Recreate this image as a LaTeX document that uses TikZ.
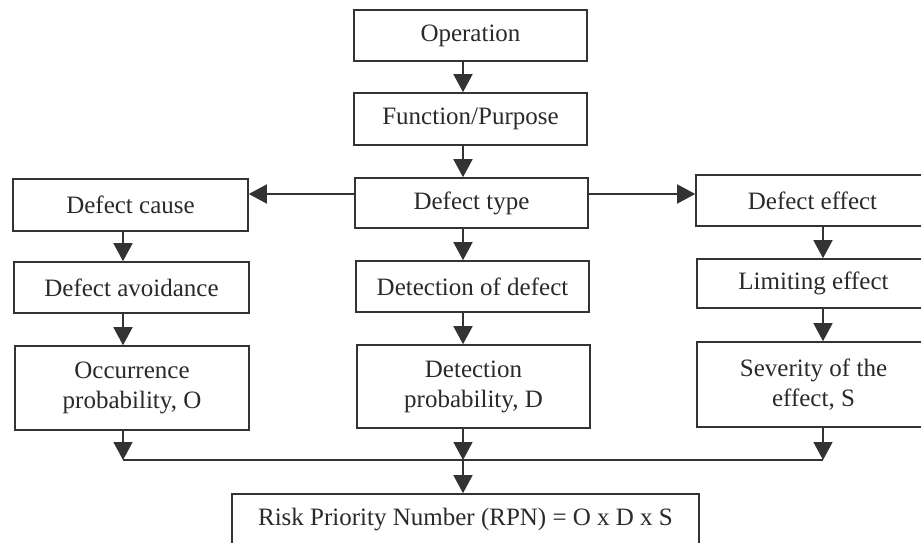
\documentclass[tikz,border=0pt]{standalone}
\usepackage{fontspec}
\setmainfont{Liberation Serif}
\usetikzlibrary{arrows.meta}
\definecolor{ink}{HTML}{333333}
\definecolor{txt}{HTML}{2A2A2A}
\begin{document}
\begin{tikzpicture}[x=1pt,y=-1pt,
  box/.style={draw=ink, line width=1.6pt, rectangle, inner sep=0pt,
    align=center, text=txt, font=\fontsize{25}{30}\selectfont},
  arr/.style={draw=ink, line width=1.6pt, -{Triangle[width=19pt,length=18pt]}},
  link/.style={draw=ink, line width=1.6pt}]
\useasboundingbox (0,0) rectangle (921,542);
\clip (0,0) rectangle (921,542);
\fill[white] (0,0) rectangle (921,542);

% column axes for the connectors
\coordinate (cl) at (123,0);
\coordinate (cx) at (463,0);
\coordinate (cr) at (823,0);
\coordinate (hy) at (0,194);
\coordinate (by) at (0,460);

% centre column
\node[box, minimum width=233pt, minimum height=51pt] (op) at (470.5,35.5) {Operation};
\node[box, minimum width=233pt, minimum height=52pt] (fp) at (470.5,119) {Function/Purpose};
\node[box, minimum width=233pt, minimum height=50pt] (dt) at (471.5,203) {Defect type};
\node[box, minimum width=233pt, minimum height=51pt] (dd) at (472.5,286.5) {Detection of defect};
\node[box, minimum width=233pt, minimum height=83pt] (dp) at (473.5,386.5) {Detection\\probability, D};

% left column
\node[box, minimum width=235pt, minimum height=52pt] (dc) at (130.5,205) {Defect cause};
\node[box, minimum width=235pt, minimum height=51pt] (da) at (131.5,287.5) {Defect avoidance};
\node[box, minimum width=234pt, minimum height=84pt] (oc) at (132,388) {Occurrence\\probability, O};

% right column
\node[box, minimum width=233pt, minimum height=51pt] (de) at (812.5,200.5) {Defect effect};
\node[box, minimum width=233pt, minimum height=49pt] (le) at (813.5,283.5) {Limiting effect};
\node[box, minimum width=233pt, minimum height=85pt] (sv) at (813.5,384.5) {Severity of the\\effect, S};

% result
\node[box, minimum width=467pt, minimum height=51pt] (rpn) at (465.5,519.5) {Risk Priority Number (RPN) = O x D x S};

% junction points on the collecting line
\coordinate (jl) at (cl |- by);
\coordinate (jc) at (cx |- by);
\coordinate (jr) at (cr |- by);

% connectors
\draw[arr] (op.south -| cx) -- (fp.north -| cx);
\draw[arr] (fp.south -| cx) -- (dt.north -| cx);
\draw[arr] (dt.west |- hy) -- (dc.east |- hy);
\draw[arr] (dt.east |- hy) -- (de.west |- hy);
\draw[arr] (dt.south -| cx) -- (dd.north -| cx);
\draw[arr] (dd.south -| cx) -- (dp.north -| cx);
\draw[arr] (dc.south -| cl) -- (da.north -| cl);
\draw[arr] (da.south -| cl) -- (oc.north -| cl);
\draw[arr] (de.south -| cr) -- (le.north -| cr);
\draw[arr] (le.south -| cr) -- (sv.north -| cr);
\draw[link] (jl) -- (jr);
\draw[arr] (oc.south -| cl) -- (jl);
\draw[arr] (dp.south -| cx) -- (jc);
\draw[arr] (sv.south -| cr) -- (jr);
\draw[arr] (jc) -- (rpn.north -| cx);
\end{tikzpicture}
\end{document}
